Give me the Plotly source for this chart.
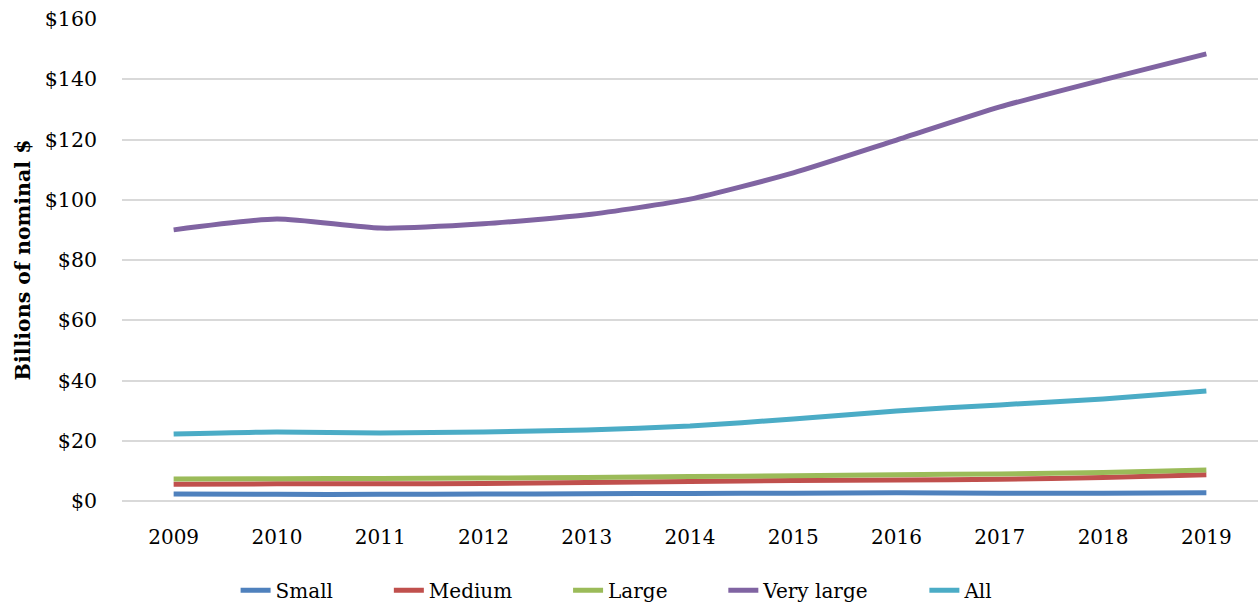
import plotly.graph_objects as go

years = ["2009", "2010", "2011", "2012", "2013", "2014", "2015", "2016", "2017", "2018", "2019"]
small = [2.3, 2.2, 2.2, 2.3, 2.4, 2.5, 2.6, 2.7, 2.6, 2.6, 2.7]
medium = [5.6, 5.7, 5.7, 5.8, 6.1, 6.5, 6.8, 7.0, 7.2, 7.8, 8.7]
large = [7.3, 7.4, 7.5, 7.6, 7.8, 8.1, 8.4, 8.7, 9.0, 9.5, 10.3]
very_large = [90.0, 93.6, 90.6, 92.0, 95.0, 100.2, 108.9, 119.8, 130.8, 139.8, 148.4]
all_ = [22.2, 22.9, 22.6, 22.9, 23.6, 24.9, 27.2, 29.9, 31.9, 33.9, 36.5]

series = [
    ("Small", small, "#4F81BD"),
    ("Medium", medium, "#C0504D"),
    ("Large", large, "#9BBB59"),
    ("Very large", very_large, "#8064A2"),
    ("All", all_, "#4BACC6"),
]

FONT = "DejaVu Serif"
PAD = "\u00a0" * 8

fig = go.Figure()
for i, (name, vals, color) in enumerate(series):
    label = name if i == len(series) - 1 else name + PAD
    fig.add_trace(go.Scatter(
        x=years, y=vals, name=label, mode="lines",
        line=dict(color=color, width=5, shape="spline", smoothing=0.6),
    ))

fig.update_layout(
    width=1259, height=606,
    margin=dict(l=122, r=1, t=19, b=105, autoexpand=False),
    paper_bgcolor="white", plot_bgcolor="white",
    font=dict(family=FONT, size=20, color="#000000"),
    showlegend=True,
    legend=dict(orientation="h", x=0.1, xanchor="left", y=-0.185, yanchor="middle",
                font=dict(family=FONT, size=20), traceorder="normal"),
    xaxis=dict(type="category", range=[-0.5, 10.5], showgrid=False, showline=False,
               zeroline=False, ticks="", ticklabelstandoff=22, automargin=False,
               tickfont=dict(family=FONT, size=20)),
    yaxis=dict(range=[0, 160], dtick=20, tickprefix="$", showgrid=True,
               gridcolor="#D9D9D9", gridwidth=2, zeroline=True, zerolinecolor="#D9D9D9",
               zerolinewidth=2, showline=False, ticks="", ticklabelstandoff=24,
               automargin=False,
               tickfont=dict(family=FONT, size=20.5),
               title=dict(text="<b>Billions of nominal $</b>", standoff=8,
                          font=dict(family=FONT, size=20.5))),
)

fig.write_html("out.html", config={"displayModeBar": False},
               post_script="document.body.style.margin='0';document.body.style.overflow='hidden';")
